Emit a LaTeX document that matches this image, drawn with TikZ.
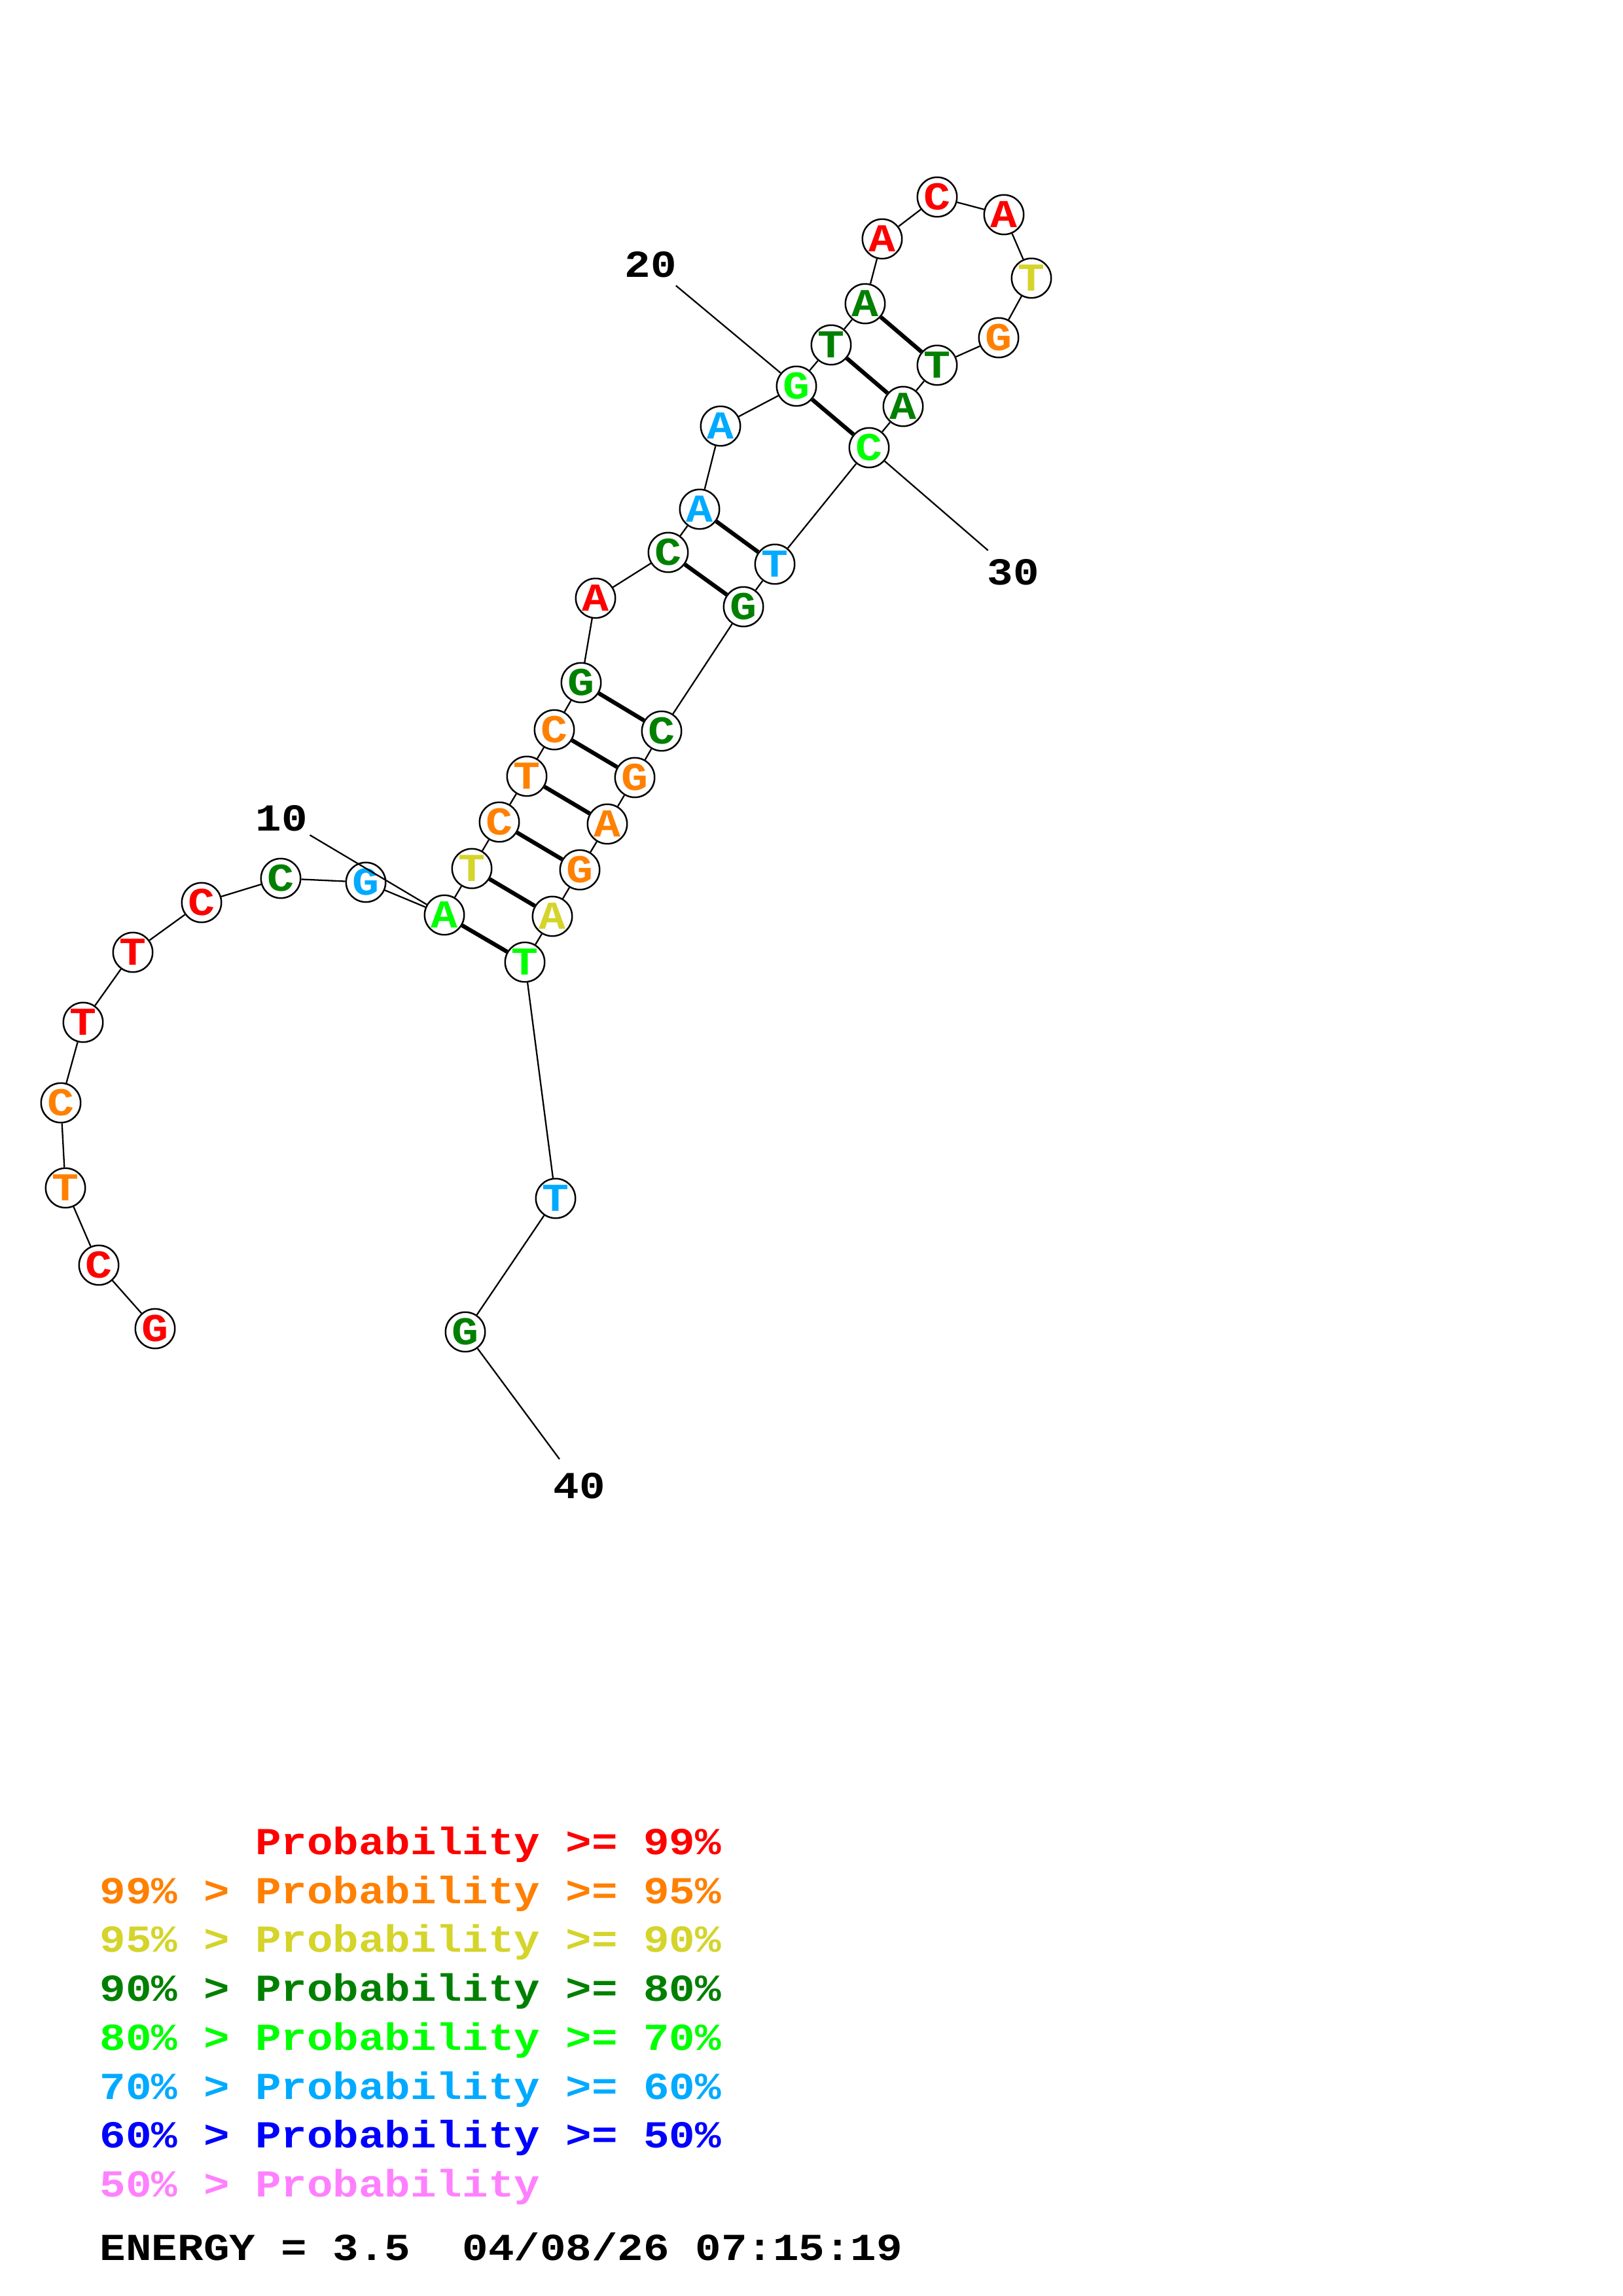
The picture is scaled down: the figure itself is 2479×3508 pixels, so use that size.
\documentclass[tikz,border=0pt]{standalone}
\usepackage{fontspec}
\newfontfamily\rnafont{Liberation Mono}[FakeStretch=1.13]

\definecolor{probred}{RGB}{255,0,0}
\definecolor{proborange}{RGB}{255,128,0}
\definecolor{probyellow}{RGB}{212,212,42}
\definecolor{probdkgreen}{RGB}{0,128,0}
\definecolor{probgreen}{RGB}{0,255,0}
\definecolor{probltblue}{RGB}{0,170,255}
\definecolor{probblue}{RGB}{0,0,255}
\definecolor{probpink}{RGB}{255,128,255}

\begin{document}
\begin{tikzpicture}[x=0.24pt, y=-0.24pt]

\tikzset{
  nuc/.style={
    circle, draw, line width=0.6pt, fill=white,
    minimum size=14.5pt, inner sep=0pt,
    font=\rnafont\bfseries\fontsize{14.5pt}{16pt}\selectfont
  },
  bb/.style={line width=0.55pt},
  pair/.style={line width=1.5pt},
  numlab/.style={
    circle, inner sep=1pt,
    font=\rnafont\bfseries\fontsize{14pt}{16pt}\selectfont
  },
  legend/.style={
    anchor=base west, inner sep=0pt,
    font=\rnafont\bfseries\frenchspacing\fontsize{14pt}{16pt}\selectfont
  }
}

% page
\fill[white] (0,0) rectangle (2479,3508);

% ==========================
% Nucleotides
% ==========================
\node[nuc, text=probred]     (n1)  at (237,2030) {G};
\node[nuc, text=probred]     (n2)  at (151,1933) {C};
\node[nuc, text=proborange]  (n3)  at (100,1815) {T};
\node[nuc, text=proborange]  (n4)  at (93,1685)  {C};
\node[nuc, text=probred]     (n5)  at (127,1562) {T};
\node[nuc, text=probred]     (n6)  at (203,1455) {T};
\node[nuc, text=probred]     (n7)  at (308,1379) {C};
\node[nuc, text=probdkgreen] (n8)  at (429,1342) {C};
\node[nuc, text=probltblue]  (n9)  at (559,1348) {G};
\node[nuc, text=probgreen]   (n10) at (679,1398) {A};
\node[nuc, text=probyellow]  (n11) at (721,1327) {T};
\node[nuc, text=proborange]  (n12) at (763,1256) {C};
\node[nuc, text=proborange]  (n13) at (805,1186) {T};
\node[nuc, text=proborange]  (n14) at (847,1115) {C};
\node[nuc, text=probdkgreen] (n15) at (888,1043) {G};
\node[nuc, text=probred]     (n16) at (910,914)  {A};
\node[nuc, text=probdkgreen] (n17) at (1021,844) {C};
\node[nuc, text=probltblue]  (n18) at (1069,778) {A};
\node[nuc, text=probltblue]  (n19) at (1101,651) {A};
\node[nuc, text=probgreen]   (n20) at (1217,590) {G};
\node[nuc, text=probdkgreen] (n21) at (1270,527) {T};
\node[nuc, text=probdkgreen] (n22) at (1322,464) {A};
\node[nuc, text=probred]     (n23) at (1348,365) {A};
\node[nuc, text=probred]     (n24) at (1432,301) {C};
\node[nuc, text=probred]     (n25) at (1534,328) {A};
\node[nuc, text=probyellow]  (n26) at (1576,425) {T};
\node[nuc, text=proborange]  (n27) at (1526,516) {G};
\node[nuc, text=probdkgreen] (n28) at (1432,558) {T};
\node[nuc, text=probdkgreen] (n29) at (1380,621) {A};
\node[nuc, text=probgreen]   (n30) at (1328,684) {C};
\node[nuc, text=probltblue]  (n31) at (1184,862) {T};
\node[nuc, text=probdkgreen] (n32) at (1136,927) {G};
\node[nuc, text=probdkgreen] (n33) at (1011,1117) {C};
\node[nuc, text=proborange]  (n34) at (970,1188) {G};
\node[nuc, text=proborange]  (n35) at (928,1259) {A};
\node[nuc, text=proborange]  (n36) at (886,1329) {G};
\node[nuc, text=probyellow]  (n37) at (844,1400) {A};
\node[nuc, text=probgreen]   (n38) at (802,1470) {T};
\node[nuc, text=probltblue]  (n39) at (849,1831) {T};
\node[nuc, text=probdkgreen] (n40) at (711,2035) {G};

% backbone
\draw[bb] (n1) -- (n2) -- (n3) -- (n4) -- (n5) -- (n6) -- (n7) -- (n8)
  -- (n9) -- (n10) -- (n11) -- (n12) -- (n13) -- (n14) -- (n15) -- (n16)
  -- (n17) -- (n18) -- (n19) -- (n20) -- (n21) -- (n22) -- (n23) -- (n24)
  -- (n25) -- (n26) -- (n27) -- (n28) -- (n29) -- (n30) -- (n31) -- (n32)
  -- (n33) -- (n34) -- (n35) -- (n36) -- (n37) -- (n38) -- (n39) -- (n40);

% base pairs
\draw[pair] (n10) -- (n38);
\draw[pair] (n11) -- (n37);
\draw[pair] (n12) -- (n36);
\draw[pair] (n13) -- (n35);
\draw[pair] (n14) -- (n34);
\draw[pair] (n15) -- (n33);
\draw[pair] (n17) -- (n32);
\draw[pair] (n18) -- (n31);
\draw[pair] (n20) -- (n30);
\draw[pair] (n21) -- (n29);
\draw[pair] (n22) -- (n28);

% ==========================
% Position numbers
% ==========================
\node[numlab] (num10) at (430,1250) {10};
\node[numlab] (num20) at (994,404)  {20};
\node[numlab] (num30) at (1548,874) {30};
\node[numlab] (num40) at (885,2270) {40};

\draw[bb] (num10) -- (n10);
\draw[bb] (num20) -- (n20);
\draw[bb] (num30) -- (n30);
\draw[bb] (num40) -- (n40);

% ==========================
% Legend
% ==========================
\node[legend, text=probred]     (leg1) at (152,2833) {\phantom{99\% > }Probability >= 99\%};
\node[legend, text=proborange]  (leg2) at (152,2908) {99\% > Probability >= 95\%};
\node[legend, text=probyellow]  (leg3) at (152,2982) {95\% > Probability >= 90\%};
\node[legend, text=probdkgreen] (leg4) at (152,3057) {90\% > Probability >= 80\%};
\node[legend, text=probgreen]   (leg5) at (152,3132) {80\% > Probability >= 70\%};
\node[legend, text=probltblue]  (leg6) at (152,3207) {70\% > Probability >= 60\%};
\node[legend, text=probblue]    (leg7) at (152,3281) {60\% > Probability >= 50\%};
\node[legend, text=probpink]    (leg8) at (152,3356) {50\% > Probability};

\node[legend] (energy) at (152,3453) {ENERGY = 3.5\ \ 04/08/26 07:15:19};

\end{tikzpicture}
\end{document}
